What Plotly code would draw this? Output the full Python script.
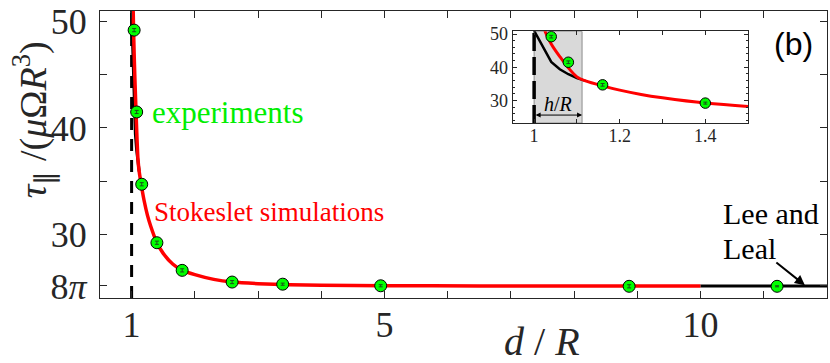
"""Torque on a sphere rotating near a wall: experiments vs Stokeslet simulations."""
import math

import plotly.graph_objects as go

# experiments (green markers)
exp_x = [1.04, 1.08, 1.16, 1.40, 1.80, 2.59, 3.39, 4.94, 8.87, 11.21]
exp_y = [49.2, 41.5, 34.7, 29.2, 26.6, 25.5, 25.3, 25.15, 25.1, 25.1]
exp_err_main = [0.15, 0.15, 0.15, 0.15, 0.15, 0.15, 0.1, 0.1, 0.15, 0.05]
exp_err_inset = [0.4, 0.4, 0.4, 0.3, 0.3, 0.3, 0.3, 0.3, 0.3, 0.3]

# Stokeslet simulations (red curve)
stokeslet_x = [1.025, 1.03, 1.04, 1.05, 1.06, 1.08, 1.10, 1.12, 1.16, 1.20, 1.25,
               1.30, 1.40, 1.50, 1.65, 1.80, 2.0, 2.3, 2.6, 3.0, 3.5, 4.0, 5.0,
               6.5, 8.0, 10.0]
stokeslet_y = [51.0, 49.5, 47.0, 45.0, 43.2, 39.8, 37.1, 35.9, 34.4, 33.1, 31.8,
               30.8, 29.2, 28.2, 27.2, 26.6, 26.2, 25.75, 25.5, 25.35, 25.25, 25.2,
               25.15, 25.14, 25.13, 25.13]

# near-wall curve (black, inset)
near_x = [1.0, 1.02, 1.04, 1.06, 1.08, 1.10, 1.12]
near_y = [51.0, 46.2, 41.6, 39.4, 37.9, 36.7, 35.9]

# Lee and Leal far-field value
lee_leal_x = [10.0, 12.0]
lee_leal_y = [8 * math.pi, 8 * math.pi]

wall_position = 1.0
gap_end = 1.112  # 1 + h/R

x_tick_vals = list(range(1, 13))
x_tick_text = ["1", "", "", "", "5", "", "", "", "", "10", "", ""]
y_tick_vals = [8 * math.pi, 30, 35, 40, 45, 50]
y_tick_text = ["8<i>π</i>", "30", "", "40", "", "50"]
inset_x_tick_vals = [1.0, 1.1, 1.2, 1.3, 1.4, 1.5]
inset_x_tick_text = ["1", "", "1.2", "", "1.4", ""]
inset_y_tick_vals = [30, 40, 50]

SERIF = "Liberation Serif, Times New Roman, serif"
AXIS_COLOR = "#262626"
GREEN = "#00ff00"


def _add_experiments(fig: go.Figure, xref: str, yref: str, size: float, err: list[float]) -> None:
    fig.add_trace(
        go.Scatter(
            x=exp_x, y=exp_y, mode="markers", xaxis=xref, yaxis=yref,
            marker={"color": GREEN, "size": size, "line": {"color": "black", "width": 1}},
            showlegend=False,
        )
    )
    # error bars on top of the markers
    fig.add_trace(
        go.Scatter(
            x=exp_x, y=exp_y, mode="markers", xaxis=xref, yaxis=yref,
            marker={"opacity": 0, "size": 1},
            error_y={"type": "data", "array": err, "color": "#1a4d1a",
                     "thickness": 1, "width": 2},
            showlegend=False,
        )
    )


def _axis_style(font_size: int) -> dict:
    return dict(
        showline=True, linecolor=AXIS_COLOR, linewidth=1.3, mirror="ticks",
        ticks="inside", tickcolor=AXIS_COLOR, showgrid=False, zeroline=False,
        tickfont={"family": SERIF, "size": font_size, "color": AXIS_COLOR},
    )


fig = go.Figure()

# main axes
fig.add_trace(go.Scatter(x=near_x, y=near_y, mode="lines", line={"color": "black", "width": 3},
                         showlegend=False))
fig.add_trace(go.Scatter(x=stokeslet_x, y=stokeslet_y, mode="lines",
                         line={"color": "#ff0000", "width": 3.5, "shape": "spline", "smoothing": 0.6},
                         showlegend=False))
fig.add_trace(go.Scatter(x=lee_leal_x, y=lee_leal_y, mode="lines",
                         line={"color": "black", "width": 3}, showlegend=False))
_add_experiments(fig, "x", "y", 12, exp_err_main)

# inset axes
fig.add_trace(go.Scatter(x=near_x, y=near_y, mode="lines", xaxis="x2", yaxis="y2",
                         line={"color": "black", "width": 2.5}, showlegend=False))
fig.add_trace(go.Scatter(x=stokeslet_x, y=stokeslet_y, mode="lines", xaxis="x2", yaxis="y2",
                         line={"color": "#ff0000", "width": 3, "shape": "spline", "smoothing": 0.6},
                         showlegend=False))
_add_experiments(fig, "x2", "y2", 10.5, exp_err_inset)

inset_y_range = [23.2, 50.8]

fig.add_shape(type="line", xref="x", yref="y domain", x0=wall_position, x1=wall_position,
              y0=0, y1=1, layer="below", line={"color": "black", "width": 3, "dash": "12px,9px"})
fig.add_shape(type="rect", xref="x2", yref="y2", x0=wall_position, x1=gap_end,
              y0=inset_y_range[0], y1=inset_y_range[1], layer="below",
              fillcolor="#d9d9d9", line={"color": "#8c8c8c", "width": 1})
fig.add_shape(type="line", xref="x2", yref="y2", x0=wall_position, x1=wall_position,
              y0=inset_y_range[0], y1=inset_y_range[1], layer="below",
              line={"color": "black", "width": 3.5, "dash": "18px,6px"})

fig.update_layout(
    width=830, height=363,
    margin={"l": 100, "r": 2, "t": 6, "b": 65},
    paper_bgcolor="white", plot_bgcolor="white",
    showlegend=False,
    xaxis=dict(**_axis_style(36), range=[0.5, 12], tickvals=x_tick_vals,
               ticktext=x_tick_text, ticklen=7, ticklabelstandoff=-5),
    yaxis=dict(**_axis_style(36), range=[24, 51], tickvals=y_tick_vals,
               ticktext=y_tick_text, ticklen=7, ticklabelstandoff=5),
    xaxis2=dict(**_axis_style(18), domain=[0.5677, 0.8915], anchor="y2", range=[0.95, 1.5],
                tickvals=inset_x_tick_vals, ticktext=inset_x_tick_text, ticklen=4,
                ticklabelstandoff=-4),
    yaxis2=dict(**_axis_style(18), domain=[0.6096, 0.9291], anchor="x2", range=inset_y_range,
                tickvals=inset_y_tick_vals, ticklen=4,
                minor={"dtick": 2, "ticklen": 2, "ticks": "inside", "tickcolor": AXIS_COLOR}),
)
fig.update_xaxes(linewidth=1, selector={"anchor": "y2"})
fig.update_yaxes(linewidth=1, selector={"anchor": "x2"})

text_font = {"family": SERIF, "color": AXIS_COLOR}
fig.add_annotation(
    text="<i>τ</i><sub>∥</sub> /(<i>μ</i>Ω<i>R</i><sup>3</sup>)", textangle=-90,
    xref="paper", yref="paper", x=-0.092, y=0.62, xanchor="center", yanchor="middle",
    showarrow=False, font={**text_font, "size": 38},
)
fig.add_annotation(
    text="<i>d</i> / <i>R</i>", xref="paper", yref="paper", x=0.6085, y=-0.151,
    xanchor="center", yanchor="middle", showarrow=False, font={**text_font, "size": 40},
)
fig.add_annotation(
    text="experiments", xref="paper", yref="paper", x=0.0687, y=0.647,
    xanchor="left", yanchor="middle", showarrow=False,
    font={"family": SERIF, "size": 31, "color": "#00ee00"},
)
fig.add_annotation(
    text="Stokeslet simulations", xref="paper", yref="paper", x=0.071, y=0.298,
    xanchor="left", yanchor="middle", showarrow=False,
    font={"family": SERIF, "size": 27, "color": "#ff0000"},
)
fig.add_annotation(
    text="Lee and", xref="paper", yref="paper", x=0.8544, y=0.2928,
    xanchor="left", yanchor="middle", showarrow=False, font={**text_font, "size": 30, "color": "black"},
)
fig.add_annotation(
    text="Leal", xref="paper", yref="paper", x=0.8544, y=0.1729,
    xanchor="left", yanchor="middle", showarrow=False, font={**text_font, "size": 30, "color": "black"},
)
fig.add_annotation(
    text="", x=11.65, y=25.2, xref="x", yref="y", ax=-30, ay=-24,
    showarrow=True, arrowhead=2, arrowsize=1, arrowwidth=2, arrowcolor="black", standoff=0,
)
fig.add_annotation(
    text="(b)", xref="paper", yref="paper", x=0.954, y=0.8836,
    xanchor="center", yanchor="middle", showarrow=False,
    font={"family": "Liberation Sans, Arial, sans-serif", "size": 32, "color": "black"},
)
# h/R double arrow in the inset
fig.add_annotation(
    text="", x=gap_end, y=25.6, xref="x2", yref="y2", ax=wall_position, ay=25.6,
    axref="x2", ayref="y2", showarrow=True, arrowhead=2, arrowside="end+start",
    arrowsize=1, arrowwidth=1, arrowcolor="black", standoff=0, startstandoff=0,
)
fig.add_annotation(
    text="<i>h</i>/<i>R</i>", x=(wall_position + gap_end) / 2, y=29.0, xref="x2", yref="y2",
    showarrow=False, font={**text_font, "size": 20, "color": "black"},
)

# drop the browser's default page margin so the figure sits at the window corner
fig.write_html("out.html", config={"displayModeBar": False},
               post_script="document.body.style.margin = '0';")
